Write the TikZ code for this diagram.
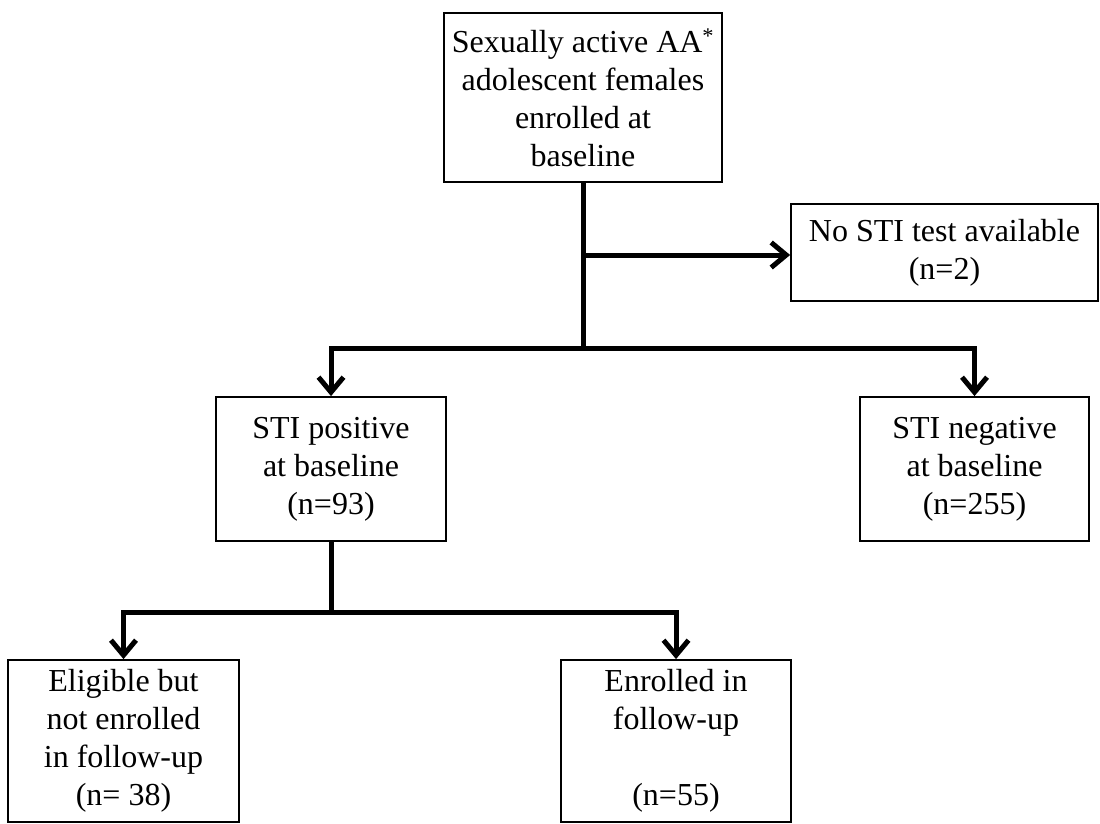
\documentclass[tikz,border=0pt]{standalone}
\usepackage{fontspec}
\setmainfont{Liberation Serif}
\usetikzlibrary{arrows.meta}
\begin{document}
\begin{tikzpicture}[x=1pt,y=-1pt,
  box/.style={draw=black, line width=1.8pt, rectangle, align=center, inner sep=0pt,
    font=\fontsize{32}{38}\selectfont},
  conn/.style={line width=5pt},
  arr/.style={conn, -{Straight Barb[length=15pt,width=25pt]}}
]
\useasboundingbox (0,0) rectangle (1100,824);
\fill[white] (0,0) rectangle (1100,824);

\node[box, minimum width=278pt, minimum height=169pt] (top) at (583,97.5)
  {Sexually active AA\textsuperscript{*}\\adolescent females\\enrolled at\\baseline};
\node[box, minimum width=307pt, minimum height=97pt] (nosti) at (944.5,252.5)
  {No STI test available\\(n=2)};
\node[box, minimum width=230pt, minimum height=144pt] (pos) at (331,469)
  {STI positive\\at baseline\\(n=93)};
\node[box, minimum width=229pt, minimum height=144pt] (neg) at (974.5,469)
  {STI negative\\at baseline\\(n=255)};
\node[box, minimum width=231pt, minimum height=162pt] (elig) at (123.5,741)
  {Eligible but\\not enrolled\\in follow-up\\(n= 38)};
\node[box, minimum width=230pt, minimum height=162pt] (enr) at (676,741)
  {Enrolled in\\follow-up\\~\\(n=55)};

\coordinate (b1) at (583,255);
\coordinate (j1) at (583,348);
\coordinate (j2) at (331,612);

\draw[conn] (top.south) -- (j1);
\draw[arr] (b1) -- (nosti.west |- b1);
\draw[arr] (j1) -| (pos.north);
\draw[arr] (j1) -| (neg.north);
\draw[conn] (pos.south) -- (j2);
\draw[arr] (j2) -| (elig.north);
\draw[arr] (j2) -| (enr.north);
\end{tikzpicture}
\end{document}
